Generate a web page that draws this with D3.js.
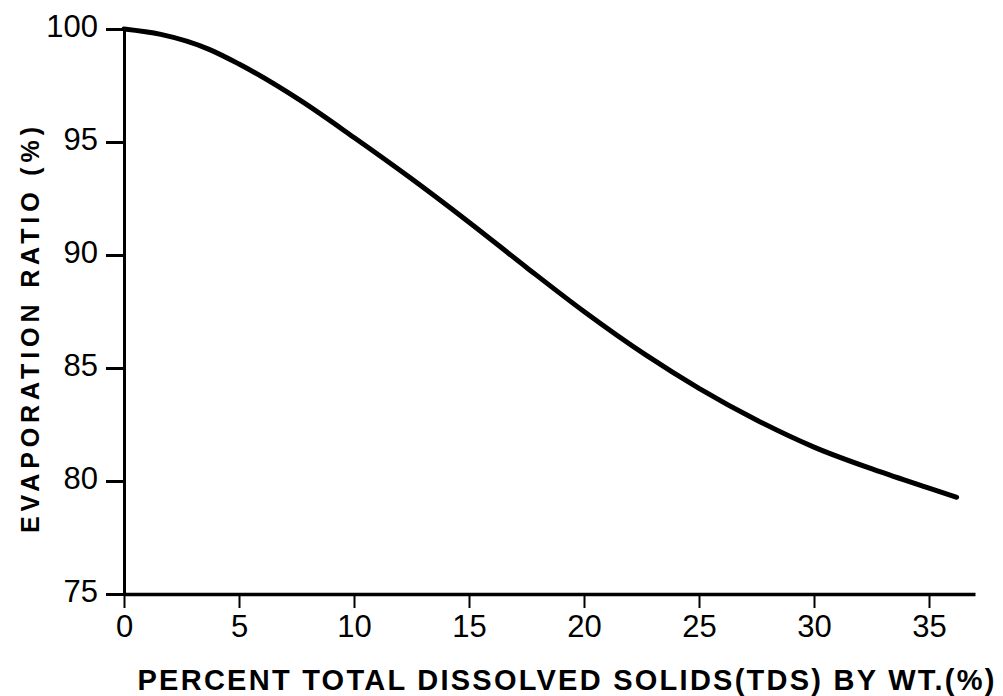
<!DOCTYPE html>
<html>
<head>
<meta charset="utf-8">
<script src="https://cdn.jsdelivr.net/npm/d3@7/dist/d3.min.js"></script>
<style>
  html, body { margin: 0; padding: 0; background: #fff; }
  svg { display: block; }
</style>
</head>
<body>
<svg id="chart" width="1003" height="696"></svg>
<script>
// Data
const tdsPercent = [0, 1.6, 3.7, 5, 7.65, 10, 12.4, 15, 17.5, 20, 22.65, 25, 27.5, 30, 32.9, 35, 36.2];
const evapRatio  = [100, 99.76, 99.1, 98.45, 96.85, 95.2, 93.45, 91.45, 89.45, 87.5, 85.6, 84.1, 82.7, 81.5, 80.4, 79.68, 79.28];
const xTicks = [0, 5, 10, 15, 20, 25, 30, 35];
const yTicks = [75, 80, 85, 90, 95, 100];
const xTitle = "PERCENT TOTAL DISSOLVED SOLIDS(TDS) BY WT.(%)";
const yTitle = "EVAPORATION RATIO (%)";

const svg = d3.select("#chart");
const x = d3.scaleLinear().domain([0, 37]).range([124, 975]);
const y = d3.scaleLinear().domain([75, 100]).range([594, 29]);

const tickFont = "'Liberation Sans', Arial, sans-serif";

// Y axis
const yAxis = svg.append("g")
  .attr("transform", `translate(${x(0)},0)`)
  .call(d3.axisLeft(y).tickValues(yTicks).tickSize(18).tickPadding(8).tickSizeOuter(0));
yAxis.select(".domain").attr("stroke", "#000").attr("stroke-width", 3);
yAxis.selectAll(".tick line").attr("stroke", "#000").attr("stroke-width", 3);
yAxis.selectAll(".tick text")
  .attr("fill", "#000").attr("font-family", tickFont).attr("font-size", 31)
  .attr("dy", "0.25em");

// X axis
const xAxis = svg.append("g")
  .attr("transform", `translate(0,${y(75)})`)
  .call(d3.axisBottom(x).tickValues(xTicks).tickSize(14).tickPadding(7).tickSizeOuter(0));
xAxis.select(".domain").attr("stroke", "#000").attr("stroke-width", 3.5);
xAxis.selectAll(".tick line").attr("stroke", "#000").attr("stroke-width", 2);
xAxis.selectAll(".tick text")
  .attr("fill", "#000").attr("font-family", tickFont).attr("font-size", 31);

// Curve
const pts = tdsPercent.map((t, i) => [t, evapRatio[i]]);
svg.append("path")
  .datum(pts)
  .attr("fill", "none")
  .attr("stroke", "#000")
  .attr("stroke-width", 5)
  .attr("stroke-linecap", "round")
  .attr("d", d3.line().x(d => x(d[0])).y(d => y(d[1])).curve(d3.curveMonotoneX));

// Titles
svg.append("text")
  .attr("x", 566).attr("y", 690)
  .attr("text-anchor", "middle")
  .attr("font-family", "'Liberation Sans', Arial, sans-serif")
  .attr("font-weight", "bold")
  .attr("font-size", 29)
  .attr("textLength", 857)
  .attr("lengthAdjust", "spacing")
  .attr("fill", "#000")
  .text(xTitle);

svg.append("text")
  .attr("transform", "translate(39,330) rotate(-90)")
  .attr("text-anchor", "middle")
  .attr("font-family", "'Liberation Sans', Arial, sans-serif")
  .attr("font-weight", "bold")
  .attr("font-size", 25)
  .attr("textLength", 406)
  .attr("lengthAdjust", "spacing")
  .attr("fill", "#000")
  .text(yTitle);
</script>
</body>
</html>
